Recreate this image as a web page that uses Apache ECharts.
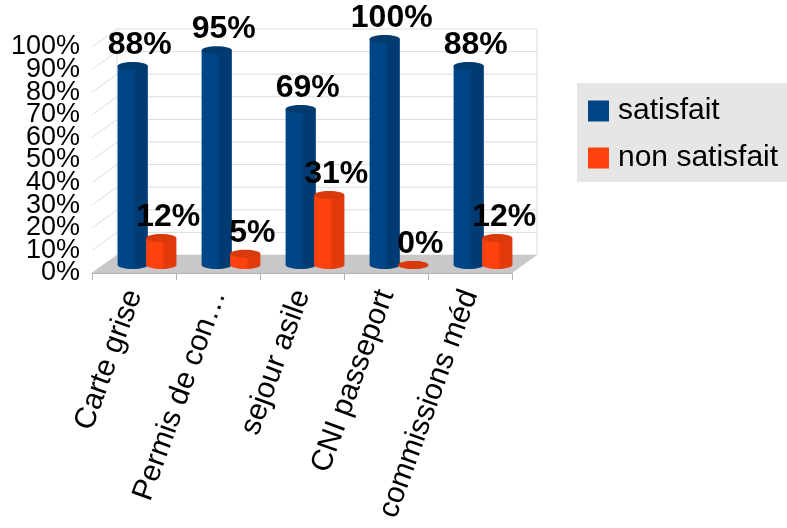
<!DOCTYPE html>
<html>
<head>
<meta charset="utf-8">
<script src="https://cdn.jsdelivr.net/npm/echarts@6/dist/echarts.min.js"></script>
<style>
  html, body { margin: 0; padding: 0; background: #fff; }
  #chart { width: 787px; height: 528px; }
</style>
</head>
<body>
<div id="chart"></div>
<script>
// Survey results per administrative service
const categories = ['Carte grise', 'Permis de con…', 'sejour asile', 'CNI passeport', 'commissions méd'];
const satisfait = [88, 95, 69, 100, 88];
const nonSatisfait = [12, 5, 31, 0, 12];
const gridTicks = [0, 10, 20, 30, 40, 50, 60, 70, 80, 90, 100];

const FONT = '"Liberation Sans", Arial, sans-serif';
// oblique depth of the plot box (back wall offset) and of the bar row
const WALL_DX = 25, WALL_DY = -18;
const BAR_DX = 13, BAR_DY = -8;
const GRID_COLOR = '#dcdcdc';
const FLOOR_COLOR = '#c8c8c8';

const chart = echarts.init(document.getElementById('chart'), null, { renderer: 'canvas' });

// Walls, gridlines, floor and percentage scale of the 3D box
function renderBox(params, api) {
  const cs = params.coordSys;
  const v = api.value(0);
  const y = api.coord([0, v])[1];
  const x0 = cs.x, x1 = cs.x + cs.width;
  const children = [
    {
      type: 'polyline',
      shape: { points: [[x0, y], [x0 + WALL_DX, y + WALL_DY], [x1 + WALL_DX, y + WALL_DY]] },
      style: { stroke: GRID_COLOR, lineWidth: 1, fill: null },
      silent: true
    },
    {
      type: 'text',
      style: {
        x: x0 - 12,
        y: y,
        text: v + '%',
        fill: '#000',
        font: '27px ' + FONT,
        align: 'right',
        verticalAlign: 'middle'
      },
      silent: true
    }
  ];
  if (v === 0) {
    const yTop = api.coord([0, 100])[1];
    children.push({
      type: 'polygon',
      shape: { points: [[x0, y], [x1, y], [x1 + WALL_DX, y + WALL_DY], [x0 + WALL_DX, y + WALL_DY]] },
      style: { fill: FLOOR_COLOR },
      silent: true
    });
    children.push({
      type: 'line',
      shape: { x1: x0 + WALL_DX, y1: y + WALL_DY, x2: x0 + WALL_DX, y2: yTop + WALL_DY },
      style: { stroke: GRID_COLOR, lineWidth: 1 },
      silent: true
    });
    children.push({
      type: 'line',
      shape: { x1: x1 + WALL_DX, y1: y + WALL_DY, x2: x1 + WALL_DX, y2: yTop + WALL_DY },
      style: { stroke: GRID_COLOR, lineWidth: 1 },
      silent: true
    });
  }
  return { type: 'group', children: children };
}

// Rounded 3D column with its value label
function columnRenderer(shift, light, dark, topColor) {
  return function (params, api) {
    const cat = api.value(0);
    const val = api.value(1);
    const base = api.coord([cat, 0]);
    const top = api.coord([cat, val]);
    const band = api.size([1, 0])[0];
    const w = band * 0.36;
    const cx = base[0] + shift * band + BAR_DX;
    const y0 = base[1] + BAR_DY;
    const y1 = top[1] + BAR_DY;
    const ry = 4;
    const grad = new echarts.graphic.LinearGradient(0, 0, 1, 0, [
      { offset: 0, color: light },
      { offset: 0.5, color: light },
      { offset: 0.62, color: dark },
      { offset: 1, color: dark }
    ]);
    const children = [
      {
        type: 'ellipse',
        shape: { cx: cx, cy: y0, rx: w / 2, ry: ry },
        style: { fill: grad }
      },
      {
        type: 'rect',
        shape: { x: cx - w / 2, y: y1, width: w, height: Math.max(0, y0 - y1) },
        style: { fill: grad }
      },
      {
        type: 'ellipse',
        shape: { cx: cx, cy: y1, rx: w / 2, ry: ry },
        style: { fill: topColor }
      },
      {
        type: 'text',
        style: {
          x: cx + 7,
          y: y1 - 5,
          text: val + '%',
          fill: '#000',
          font: 'bold 32px ' + FONT,
          align: 'center',
          verticalAlign: 'bottom'
        }
      }
    ];
    return { type: 'group', children: children };
  };
}

const option = {
  backgroundColor: '#fff',
  animation: false,
  legend: {
    left: 577,
    top: 83,
    orient: 'vertical',
    backgroundColor: '#e6e6e6',
    padding: [13, 10, 9, 11],
    itemWidth: 21,
    itemHeight: 21,
    itemGap: 17,
    borderRadius: 0,
    textStyle: { fontSize: 30, color: '#000', fontFamily: FONT, padding: [0, 0, 0, 4] },
    data: [
      { name: 'satisfait', icon: 'rect', itemStyle: { color: '#004586' } },
      { name: 'non satisfait', icon: 'rect', itemStyle: { color: '#ff420e' } }
    ]
  },
  grid: { left: 92, right: 275, top: 47, bottom: 255, containLabel: false, outerBoundsMode: 'none' },
  xAxis: {
    type: 'category',
    data: categories,
    boundaryGap: true,
    axisLine: { show: true, lineStyle: { color: '#b3b3b3' } },
    axisTick: { show: true, length: 7, lineStyle: { color: '#b3b3b3' } },
    axisLabel: {
      interval: 0,
      rotate: 70,
      margin: 18,
      fontSize: 30,
      fontFamily: FONT,
      color: '#000',
      hideOverlap: false
    }
  },
  yAxis: {
    type: 'value',
    min: 0,
    max: 100,
    interval: 10,
    axisLine: { show: false },
    axisTick: { show: false },
    splitLine: { show: false },
    axisLabel: { show: false }
  },
  series: [
    {
      type: 'custom',
      name: 'box',
      renderItem: renderBox,
      data: gridTicks.map(function (t) { return [t]; }),
      encode: { y: 0 },
      silent: true,
      z: 1
    },
    {
      type: 'custom',
      name: 'satisfait',
      itemStyle: { color: '#004586' },
      renderItem: columnRenderer(-0.17, '#004586', '#003b73', '#003a6e'),
      data: satisfait.map(function (v, i) { return [i, v]; }),
      encode: { x: 0, y: 1 },
      z: 3
    },
    {
      type: 'custom',
      name: 'non satisfait',
      itemStyle: { color: '#ff420e' },
      renderItem: columnRenderer(0.17, '#ff420e', '#e23a0c', '#d93a0c'),
      data: nonSatisfait.map(function (v, i) { return [i, v]; }),
      encode: { x: 0, y: 1 },
      z: 4
    }
  ]
};

chart.setOption(option);
</script>
</body>
</html>
